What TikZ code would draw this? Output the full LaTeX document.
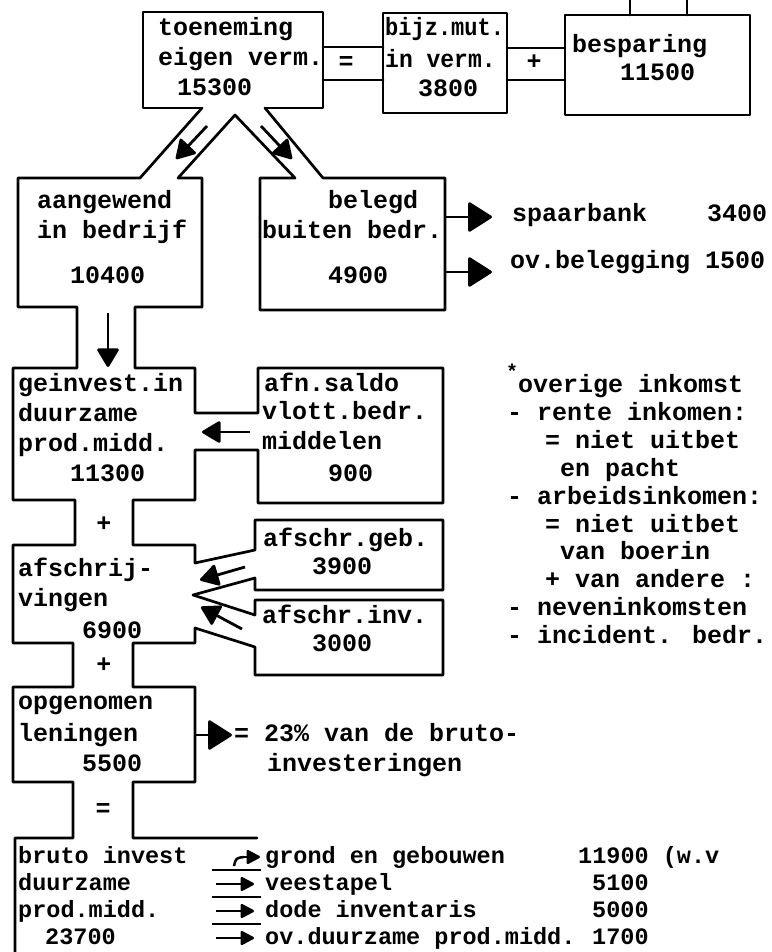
\documentclass[tikz,border=0pt]{standalone}
\usepackage{fontspec}
\usepackage{graphicx}
\newfontfamily\twfont{Liberation Mono}
\newcommand{\tw}{\twfont\bfseries\fontsize{25}{30}\selectfont}
\newcommand{\twb}{\twfont\bfseries\fontsize{23.5}{28}\selectfont}
\usetikzlibrary{arrows.meta}
\begin{document}
\begin{tikzpicture}[x=1pt,y=-1pt,
  ln/.style={line width=2.7pt, line join=round, line cap=round},
  tx/.style={anchor=base west, inner sep=0pt, font=\tw},
  txb/.style={anchor=base west, inner sep=0pt, font=\twb},
  tc/.style={anchor=base, inner sep=0pt, font=\tw},
  bigarr/.style={line width=2.7pt, -{Triangle[length=25pt,width=31pt,round]}},
  midarr/.style={line width=2.8pt, -{Triangle[length=20pt,width=23pt,round]}},
  smallarr/.style={line width=2.5pt, -{Triangle[length=15pt,width=15pt,round]}},
]
\useasboundingbox (0,0) rectangle (771,952);
\fill[white] (0,0) rectangle (771,952);

% ---------- outlines ----------
% box 1 (toeneming)
\draw[ln] (265,108) -- (323,108) -- (323,12) -- (143,12) -- (143,108) -- (202,108);
% left outer channel and left column
\draw[ln] (202,108) -- (140,178) -- (18,178) -- (18,307) -- (77,307) -- (77,368)
  -- (13,368) -- (13,500) -- (75,500) -- (75,545) -- (13,545) -- (13,643)
  -- (73,643) -- (73,687) -- (13,687) -- (13,782) -- (73,782) -- (73,838)
  -- (15,838) -- (15,960);
% inner channels, belegd box
\draw[ln] (202,307) -- (202,178) -- (178,178) -- (235,115) -- (295,178) -- (260,178)
  -- (260,310) -- (445,310) -- (445,178) -- (323,178) -- (265,108);
% right side of left column with side boxes
\draw[ln] (202,307) -- (135,307) -- (135,368) -- (195,368) -- (195,413) -- (258,413)
  -- (258,368) -- (443,368) -- (443,503) -- (258,503) -- (258,450) -- (195,450)
  -- (195,500) -- (133,500) -- (133,545) -- (195,545) -- (195,563) -- (255,550)
  -- (255,520) -- (443,520) -- (443,590) -- (255,590) -- (255,578) -- (193,595)
  -- (255,615) -- (255,600) -- (443,600) -- (443,675) -- (255,675) -- (255,647)
  -- (195,628) -- (195,643) -- (133,643) -- (133,687) -- (195,687) -- (195,782)
  -- (133,782) -- (133,838) -- (257,838);
% box 2 and box 3
\draw[ln] (383,13) rectangle (507,113);
\draw[ln] (323,47) -- (383,47) (323,80) -- (383,80);
\draw[ln] (565,15) rectangle (750,115);
\draw[ln] (507,48) -- (565,48) (507,80) -- (565,80);
\draw[ln] (630,-5) -- (630,15) (687,-5) -- (687,15);

% ---------- arrows ----------
\draw[midarr] (207,126) -- (176,159);
\draw[midarr] (261,126) -- (292,159);
\draw[bigarr] (445,217) -- (492,217);
\draw[bigarr] (445,272) -- (492,272);
\draw[midarr] (108,313) -- (108,367);
\draw[midarr] (250,432) -- (202,432);
\draw[midarr] (245,567) -- (200,580);
\draw[midarr] (242,629) -- (201,607);
\draw[bigarr] (195,735) -- (232,735);
% bottom arrows
\draw[line width=2.5pt] (234,866) .. controls (236,858) .. (244,857);
\draw[smallarr] (243,857) -- (260,857);
\foreach \yy in {884,911,938}{
  \draw[line width=2.5pt] (212,\yy-14) -- (261,\yy-14);
  \draw[smallarr] (216,\yy) -- (254,\yy);
}

% ---------- texts ----------
\node[tx] (t1a) at (158,36) {toeneming};
\node[tx] (t1b) at (158,66) {eigen verm.};
\node[tx] (t1c) at (177,96) {15300};
\node[tc] (eq1) at (346,70) {=};
\node[tx] (t2a) at (385,36) {\scalebox{0.88}[1]{bijz.mut.}};
\node[tx] (t2b) at (385,68) {\scalebox{0.92}[1]{in verm.}};
\node[tx] (t2c) at (418,97) {3800};
\node[tc] (pl1) at (534,70) {+};
\node[tx] (t3a) at (572,53) {besparing};
\node[tx] (t3b) at (620,81) {11500};

\node[tx] (t4a) at (37,208) {aangewend};
\node[tx] (t4b) at (37,238) {in bedrijf};
\node[tx] (t4c) at (70,283) {10400};
\node[tx] (t5a) at (328,208) {belegd};
\node[tx] (t5b) at (262,238) {buiten bedr.};
\node[tx] (t5c) at (328,283) {4900};
\node[tx] (t6a) at (512,221) {spaarbank};
\node[tx] (t6b) at (707,221) {3400};
\node[tx] (t6c) at (510,268) {ov.belegging 1500};

\node[tx] (t7a) at (18,391) {geinvest.in};
\node[tx] (t7b) at (18,421) {duurzame};
\node[tx] (t7c) at (18,451) {prod.midd.};
\node[tx] (t7d) at (70,481) {11300};
\node[tx] (t8a) at (264,391) {afn.saldo};
\node[tx] (t8b) at (262,419) {vlott.bedr.};
\node[tx] (t8c) at (262,449) {middelen};
\node[tx] (t8d) at (328,481) {900};
\node[tc] (pl2) at (104,531) {+};
\node[tx] (t9a) at (18,576) {afschrij-};
\node[tx] (t9b) at (18,606) {vingen};
\node[tx] (t9c) at (82,638) {6900};
\node[tx] (t10a) at (263,546) {afschr.geb.};
\node[tx] (t10b) at (312,574) {3900};
\node[tx] (t11a) at (262,623) {afschr.inv.};
\node[tx] (t11b) at (312,651) {3000};
\node[tc] (pl3) at (104,672) {+};
\node[tx] (t12a) at (18,709) {opgenomen};
\node[tx] (t12b) at (18,741) {leningen};
\node[tx] (t12c) at (82,771) {5500};
\node[tx] (t13a) at (234,741) {= 23\% van de bruto-};
\node[tx] (t13b) at (267,771) {investeringen};
\node[tc] (eq2) at (103,816) {=};

\node[txb] (t14a) at (18,863) {bruto invest};
\node[txb] (t14b) at (18,890) {duurzame};
\node[txb] (t14c) at (18,917) {prod.midd.};
\node[txb] (t14d) at (45,944) {23700};
\node[txb] (t15a) at (265,863) {grond en gebouwen};
\node[txb] (t15b) at (578,863) {11900 (w.v};
\node[txb] (t15c) at (265,890) {veestapel};
\node[txb] (t15d) at (592,890) {5100};
\node[txb] (t15e) at (265,917) {dode inventaris};
\node[txb] (t15f) at (592,917) {5000};
\node[txb] (t15g) at (265,944) {ov.duurzame prod.midd.};
\node[txb] (t15h) at (592,944) {1700};

% right-hand notes
\node[tx] (st) at (506,378) {\fontsize{20}{20}\selectfont *};
\node[tx] (r1) at (518,392) {overige inkomst};
\node[tx] (r2) at (507,420) {- rente inkomen:};
\node[tx] (r3) at (545,448) {= niet uitbet};
\node[tx] (r4) at (560,476) {en pacht};
\node[tx] (r5) at (507,504) {- arbeidsinkomen:};
\node[tx] (r6) at (545,532) {= niet uitbet};
\node[tx] (r7) at (560,559) {van boerin};
\node[tx] (r8) at (545,587) {+ van andere :};
\node[tx] (r9) at (507,615) {- neveninkomsten};
\node[tx] (r10) at (507,643) {- incident. bedr.};
\end{tikzpicture}
\end{document}
